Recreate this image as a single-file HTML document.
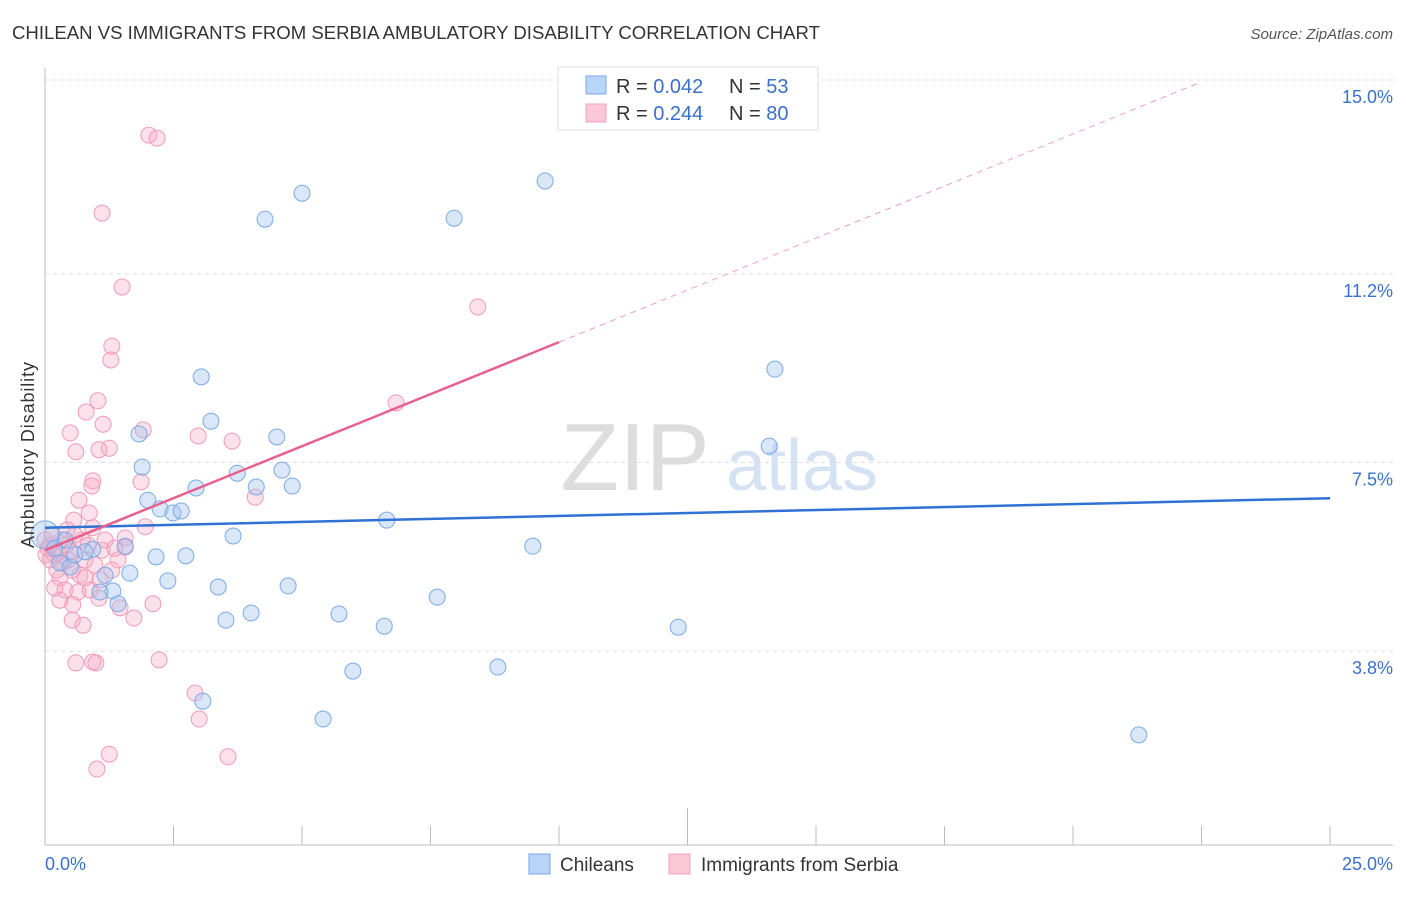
<!DOCTYPE html>
<html><head><meta charset="utf-8"><style>
body{margin:0;background:#fff;font-family:"Liberation Sans",sans-serif}
svg text{font-family:"Liberation Sans",sans-serif}
</style></head><body>
<svg id="c" width="1406" height="892">
<text x="12" y="39" font-size="18" fill="#333" textLength="808" lengthAdjust="spacingAndGlyphs">CHILEAN VS IMMIGRANTS FROM SERBIA AMBULATORY DISABILITY CORRELATION CHART</text>
<text x="1393" y="39" font-size="15" fill="#555" font-style="italic" text-anchor="end">Source: ZipAtlas.com</text>
<g><text x="635" y="490" font-size="96" fill="#ddd" font-family="Liberation Serif" text-anchor="middle">ZIP</text><text x="802" y="490" font-size="72" fill="#d4e2f4" text-anchor="middle">atlas</text></g>
<g id="grid"></g><g id="axes"></g><g id="marks"></g>
<text x="34" y="455" font-size="18" fill="#333" textLength="186" transform="rotate(-90 34 455)" text-anchor="middle">Ambulatory Disability</text>
<g>
<rect x="558" y="67" width="260" height="63" fill="#fff" stroke="#ddd"/>
<rect x="586" y="76" width="20" height="18" fill="#b8d4f6" stroke="#7aaae8"/>
<rect x="586" y="104" width="20" height="18" fill="#fbc8d8" stroke="#f0a0bc"/>
<text x="616" y="93" font-size="20" fill="#333">R = <tspan fill="#3a6fd0">0.042</tspan></text>
<text x="729" y="93" font-size="20" fill="#333">N = <tspan fill="#3a6fd0">53</tspan></text>
<text x="616" y="120" font-size="20" fill="#333">R = <tspan fill="#3a6fd0">0.244</tspan></text>
<text x="729" y="120" font-size="20" fill="#333">N = <tspan fill="#3a6fd0">80</tspan></text>
</g>
<g>
<rect x="529" y="854" width="21" height="20" fill="#b8d4f6" stroke="#7aaae8"/>
<text x="560" y="871" font-size="19" fill="#333">Chileans</text>
<rect x="669" y="854" width="21" height="20" fill="#fbc8d8" stroke="#f0a0bc"/>
<text x="701" y="871" font-size="19" fill="#333">Immigrants from Serbia</text>
</g>
</svg>
<script>
const yTicks=[3.8,7.5,11.2,15.0];
const yTickLabels=["3.8%","7.5%","11.2%","15.0%"];
const xTickCount=10;
const blueX=[0,1.83,1.89,2.0,2.24,2.49,2.65,2.94,3.04,3.23,3.74,3.66,2.16,2.39,2.74,3.37,3.52,4.01,4.28,4.51,4.61,4.81,4.73,5.0,4.11,3.07,5.41,5.72,5.99,6.6,6.65,7.63,7.96,8.81,9.49,9.73,12.32,14.09,14.2,21.28,1.56,1.17,1.65,1.32,1.07,1.42,0.93,0.29,0.49,0.58,0.19,0.78,0.39];
const blueY=[6.08,8.06,7.41,6.76,6.59,6.51,6.55,7.0,9.18,8.31,7.29,6.06,5.65,5.18,5.67,5.06,4.41,4.55,12.27,8.0,7.35,7.04,5.08,12.78,7.02,2.82,2.47,4.53,3.41,4.29,6.37,4.86,12.29,3.49,5.86,13.02,4.27,7.82,9.33,2.16,5.86,5.29,5.33,4.98,4.96,4.73,5.8,5.53,5.45,5.69,5.82,5.75,5.98];
const pinkX=[2.02,2.18,1.11,1.5,1.3,1.28,8.42,6.83,1.03,0.8,1.13,1.91,0.49,2.98,3.64,1.25,1.05,0.6,0.93,0.91,1.87,4.09,0.66,0.86,0.56,0.93,1.95,1.56,1.56,0.1,0.19,0.33,0.45,0.78,0.97,1.11,1.42,0.68,0.29,0.53,0.78,0.39,0.64,0.19,1.05,1.46,2.1,0.54,0.53,0.74,1.73,0.6,0.99,0.93,2.22,2.92,3.0,1.25,1.01,3.56,0,0.06,0.14,0.25,0.41,0.35,0.84,1.17,1.3,0.02,0.23,0.49,0.72,0.88,1.07,0.29,0.43,1.36,0.58,0.1];
const pinkY=[13.92,13.86,12.39,10.94,9.78,9.51,10.55,8.67,8.71,8.49,8.25,8.14,8.08,8.02,7.92,7.78,7.75,7.71,7.14,7.04,7.12,6.82,6.76,6.51,6.37,6.22,6.24,6.02,5.84,5.88,5.69,5.98,5.59,5.59,5.49,5.78,5.59,5.29,5.24,5.39,5.24,5.0,4.96,5.04,4.84,4.65,4.73,4.71,4.41,4.31,4.45,3.57,3.57,3.59,3.63,2.98,2.47,1.78,1.49,1.73,5.98,5.82,6.08,5.73,5.88,5.53,5.88,5.98,5.39,5.69,5.39,5.75,5.98,5.0,5.2,4.8,6.18,5.82,6.08,5.59];
const blueLine=[6.22,6.8];
const pinkLine=[5.78,9.86,14.95];
const pinkLineX=[0,10,22.47];
const X=v=>45+v*51.4, Y=v=>845-v*51.0;
const ns="http://www.w3.org/2000/svg";
function mk(p,t,a){const e=document.createElementNS(ns,t);for(const k in a)e.setAttribute(k,a[k]);p.appendChild(e);return e;}
const grid=document.getElementById('grid'),axes=document.getElementById('axes'),marks=document.getElementById('marks');
yTicks.forEach((t,i)=>{
 const l=mk(grid,'line',{x1:45,x2:1393,y1:Y(t),y2:Y(t),stroke:'#ddd','stroke-dasharray':'4,4'});
 
 
 const tx=mk(axes,'text',{x:1393,y:Y(t)+23,'font-size':18,fill:'#3a6fd0','text-anchor':'end'});
 tx.textContent=yTickLabels[i];
 
 
});
const ya=mk(axes,'line',{x1:45,x2:45,y1:68,y2:845,stroke:'#bbb'});

const xa=mk(axes,'line',{x1:45,x2:1393,y1:845,y2:845,stroke:'#bbb'});

for(let i=1;i<=xTickCount;i++){const x=X(i*2.5);const t=mk(axes,'line',{x1:x,x2:x,y1:i==5?808:826,y2:845,stroke:'#bbb'});
 }
[[45,'0.0%','start'],[1393,'25.0%','end']].forEach(d=>{const t=mk(axes,'text',{x:d[0],y:870,'font-size':18,fill:'#3a6fd0','text-anchor':d[2]});t.textContent=d[1];
 });
pinkX.forEach((x,i)=>{const c=mk(marks,'circle',{cx:X(x),cy:Y(pinkY[i]),r:8,fill:'rgba(246,170,196,0.35)',stroke:'#f09ab8','stroke-width':1});
 });
blueX.forEach((x,i)=>{const c=mk(marks,'circle',{cx:X(x),cy:Y(blueY[i]),r:i==0?14:8,fill:'rgba(160,196,240,0.4)',stroke:'#7aaae8','stroke-width':1});
 });
const bl=mk(marks,'line',{x1:X(0),y1:Y(blueLine[0]),x2:X(25),y2:Y(blueLine[1]),stroke:'#2f72d4','stroke-width':2.5});

const pl=mk(marks,'line',{x1:X(pinkLineX[0]),y1:Y(pinkLine[0]),x2:X(pinkLineX[1]),y2:Y(pinkLine[1]),stroke:'#e8608e','stroke-width':2.5});

const pd=mk(marks,'line',{x1:X(pinkLineX[1]),y1:Y(pinkLine[1]),x2:X(pinkLineX[2]),y2:Y(pinkLine[2]),stroke:'#f0a0bc','stroke-width':1,'stroke-dasharray':'6,5'});

</script>
</body></html>
